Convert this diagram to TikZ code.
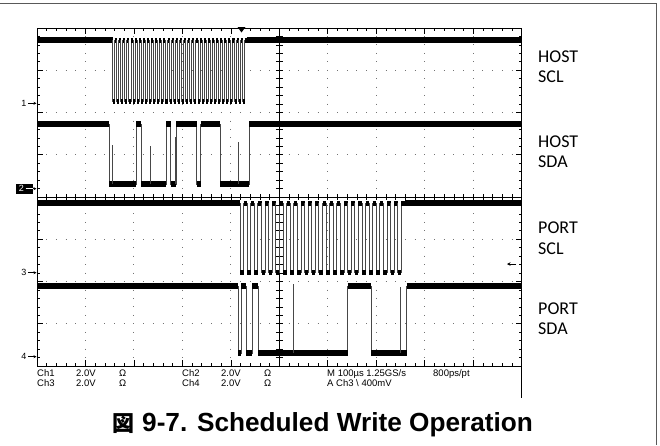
\documentclass[tikz,border=0pt]{standalone}
\usepackage{fontspec}
\setmainfont{Liberation Sans}
\newfontfamily\calib{Carlito}
\newfontfamily\cjk{Noto Sans CJK SC}
\usetikzlibrary{arrows.meta}
\begin{document}
\begin{tikzpicture}[x=1pt,y=-1pt,
  lvl/.style={line width=5.5pt, black},
  edg/.style={line width=0.9pt, black!72},
  grat/.style={line width=0.9pt, black},
  tick/.style={line width=0.7pt, black},
  vdots/.style={line width=0.9pt, black!55, dash pattern=on 0.9pt off 7.55pt, dash phase=0.45pt},
  hdots/.style={line width=0.9pt, black!55, dash pattern=on 0.9pt off 8.794pt, dash phase=0.45pt},
  lab/.style={font=\calib\fontsize{18}{20}\selectfont, anchor=base west, inner sep=0pt},
  scp/.style={font=\fontsize{9.5}{11}\selectfont, anchor=base west, inner sep=0pt},
  mk/.style={font=\fontsize{9}{10}\selectfont, inner sep=0pt},
]
\useasboundingbox (0,0) rectangle (660,445);
% outer frame
\draw[line width=1.3pt, black!65] (0,3.5) -- (656.5,3.5) -- (656.5,445);
% dotted grid
\foreach \i in {1,2,3,4,6,7,8,9}{
  \draw[vdots] ({37+\i*48.47},28) -- ({37+\i*48.47},366);
}
\foreach \j in {1,2,3,5,6,7}{
  \draw[hdots] (37,{28+\j*42.25}) -- (521.7,{28+\j*42.25});
}
% graticule border and center axes
\draw[grat] (37,28) rectangle (521.7,366);
\draw[grat] (521.7,366) -- (521.7,398);
\draw[tick] (279.35,28) -- (279.35,366);
\draw[tick] (37,197) -- (521.7,197);
% ticks
\foreach \k in {1,...,49}{
  \pgfmathsetmacro\xx{37+\k*9.694}
  \pgfmathsetmacro\tl{ifthenelse(mod(\k,5)==0,6,3)}
  \draw[tick] (\xx,28) -- ++(0,\tl);
  \draw[tick] (\xx,366) -- ++(0,-\tl);
  \draw[tick] (\xx,194) -- (\xx,200);
}
\foreach \k in {1,...,39}{
  \pgfmathsetmacro\yy{28+\k*8.45}
  \pgfmathsetmacro\tl{ifthenelse(mod(\k,5)==0,6,3)}
  \draw[tick] (37,\yy) -- ++(\tl,0);
  \draw[tick] (521.7,\yy) -- ++(-\tl,0);
  \draw[tick] (275.85,\yy) -- (282.85,\yy);
}
% trigger markers
\fill (237.5,27) -- (245.5,27) -- (241.5,32.5) -- cycle;
\coordinate (tl1) at (516,264);
\coordinate (tl2) at (507,264);
\draw[line width=0.8pt, -{Stealth[length=3.5pt,width=3.5pt]}] (tl1) -- (tl2);

% ---------- HOST SCL ----------
\draw[lvl] (37,40) -- (112.7,40);
\draw[lvl] (246.7,40) -- (521.7,40);
\foreach \i in {0,...,32}{
  \pgfmathsetmacro\a{112.7+\i*4.06}
  \pgfmathsetmacro\b{\a+2.03}
  \pgfmathsetmacro\c{\a+4.06}
  \draw[edg] (\a,40) -- (\a,101) -- (\b,101) -- (\b,40) -- (\c,40);
  \draw[line width=5pt] (\a,101) -- (\b,101);
  \draw[line width=5pt] (\b,40) -- (\c,40);
}
% ---------- HOST SDA ----------
\draw[edg] (37,124) -- (109.3,124) -- (109.3,184) -- (136,184) -- (136,124) -- (141,124)
  -- (141,184) -- (166,184) -- (166,124) -- (170.7,124) -- (170.7,184) -- (176,184)
  -- (176,124) -- (196.7,124) -- (196.7,184) -- (200.7,184) -- (200.7,124) -- (220,124)
  -- (220,184) -- (249.3,184) -- (249.3,124) -- (521.7,124);
\foreach \p/\q in {37/109.3,136/141,166/170.7,176/196.7,200.7/220,249.3/521.7}{
  \draw[lvl] (\p,124) -- (\q,124);
}
\foreach \p/\q in {109.3/136,141/166,170.7/176,196.7/200.7,220/249.3}{
  \draw[lvl] (\p,184) -- (\q,184);
}
\draw[edg] (112.3,184) -- (112.3,145);
\draw[edg] (150.7,184) -- (150.7,145.7);
\draw[edg] (238.3,184) -- (238.3,141.7);
\draw[edg] (175,184) -- (175,137);

% ---------- PORT SCL ----------
\draw[lvl] (37,203) -- (240,203);
\draw[lvl] (405,203) -- (521.7,203);
\foreach \i in {0,...,22}{
  \pgfmathsetmacro\a{240+\i*7.174}
  \pgfmathsetmacro\b{\a+3.587}
  \pgfmathsetmacro\c{\a+7.174}
  \draw[edg] (\a,203) -- (\a,272) -- (\b,272) -- (\b,203) -- (\c,203);
  \draw[line width=5pt] (\a,272) -- (\b,272);
  \draw[line width=5pt] (\b,203) -- (\c,203);
}
% ---------- PORT SDA ----------
\draw[edg] (37,286) -- (238.3,286) -- (238.3,353) -- (241,353) -- (241,286) -- (246.3,286)
  -- (246.3,353) -- (252.3,353) -- (252.3,286) -- (258.3,286) -- (258.3,353) -- (347.7,353)
  -- (347.7,286) -- (371,286) -- (371,353) -- (406.7,353) -- (406.7,286) -- (521.7,286);
\foreach \p/\q in {37/238.3,241/246.3,252.3/258.3,347.7/371,406.7/521.7}{
  \draw[lvl] (\p,286) -- (\q,286);
}
\foreach \p/\q in {238.3/241,246.3/252.3,258.3/347.7,371/406.7}{
  \draw[lvl] (\p,353) -- (\q,353);
}
\draw[edg] (293.3,353) -- (293.3,284);
\draw[edg] (400.7,353) -- (400.7,287);

% ---------- channel markers ----------
\node[mk] (m1) at (24,103.3) {1};
\coordinate (g1) at (36.5,103.3);
\draw[line width=0.7pt, -{Stealth[length=3pt,width=3pt]}] (m1.east) ++(1.5,0) -- (g1);
\fill (15.7,184) rectangle (33.3,193.5);
\node[mk, text=white] (m2) at (21.5,188.7) {2};
\coordinate (g2) at (36.5,188.7);
\draw[line width=0.7pt, white] (m2.east) ++(1.5,0) -- (33.3,188.7);
\draw[line width=0.7pt, -{Stealth[length=3pt,width=3pt]}] (33,188.7) -- (g2);
\node[mk] (m3) at (24,272.7) {3};
\coordinate (g3) at (36.5,272.7);
\draw[line width=0.7pt, -{Stealth[length=3pt,width=3pt]}] (m3.east) ++(1.5,0) -- (g3);
\node[mk] (m4) at (24,356.7) {4};
\coordinate (g4) at (36.5,356.7);
\draw[line width=0.7pt, -{Stealth[length=3pt,width=3pt]}] (m4.east) ++(1.5,0) -- (g4);

% ---------- signal labels ----------
\node[lab] (hs1) at (538,62.3) {HOST};
\node[lab] (hs2) at (538,82.3) {SCL};
\node[lab] (hd1) at (538,147.7) {HOST};
\node[lab] (hd2) at (538,167.7) {SDA};
\node[lab] (ps1) at (538,233.3) {PORT};
\node[lab] (ps2) at (538,254) {SCL};
\node[lab] (pd1) at (538,314.7) {PORT};
\node[lab] (pd2) at (538,334.7) {SDA};

% ---------- scope readout ----------
\node[scp] (r1a) at (37,376) {Ch1};
\node[scp] (r1b) at (76,376) {2.0V};
\node[scp] (r1c) at (119,376) {Ω};
\node[scp] (r1d) at (182,376) {Ch2};
\node[scp] (r1e) at (221,376) {2.0V};
\node[scp] (r1f) at (264,376) {Ω};
\node[scp] (r1g) at (327,376) {M 100µs 1.25GS/s};
\node[scp] (r1h) at (433,376) {800ps/pt};
\node[scp] (r2a) at (37,386) {Ch3};
\node[scp] (r2b) at (76,386) {2.0V};
\node[scp] (r2c) at (119,386) {Ω};
\node[scp] (r2d) at (182,386) {Ch4};
\node[scp] (r2e) at (221,386) {2.0V};
\node[scp] (r2f) at (264,386) {Ω};
\node[scp] (r2g) at (327,386) {A Ch3 \textbackslash\ 400mV};

% ---------- caption ----------
\node[anchor=base west, inner sep=0pt, font=\cjk\bfseries\fontsize{22}{24}\selectfont] (cj) at (112,431) {図};
\node[anchor=base west, inner sep=0pt, font=\bfseries\fontsize{26.2}{28}\selectfont] (cap) at (142,431) {9-7. Scheduled Write Operation};
\end{tikzpicture}
\end{document}
